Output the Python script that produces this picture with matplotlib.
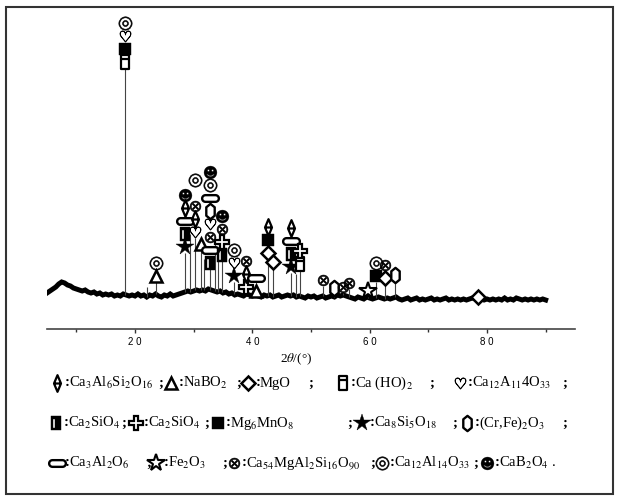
# XRD pattern with phase markers
import numpy as np
import matplotlib
matplotlib.use('Agg')
import matplotlib.pyplot as plt
from matplotlib.path import Path
from matplotlib.textpath import TextPath
from matplotlib.font_manager import FontProperties
from matplotlib.transforms import Affine2D
from matplotlib.patches import Rectangle

plt.rcParams['mathtext.fontset'] = 'stix'
plt.rcParams['font.family'] = ['Liberation Serif', 'DejaVu Sans']

# ---- data -------------------------------------------------------------
two_theta = np.arange(5, 90.01, 0.5)
baseline = [36, 38, 40, 42, 45, 47, 46, 44, 43, 41, 40, 39, 38, 39, 37, 36, 37, 35, 36, 34,
            35, 34, 35, 33, 34, 33, 35, 34, 33, 34, 33, 35, 33, 34, 32, 34, 33, 35, 33, 32,
            34, 33, 35, 33, 34, 35, 36, 37, 38, 37, 38, 39, 38, 39, 38, 40, 39, 38, 37, 38,
            36, 37, 35, 36, 34, 35, 34, 33, 35, 34, 33, 34, 33, 32, 34, 33, 34, 32, 33, 34,
            32, 33, 34, 33, 34, 32, 33, 32, 31, 33, 32, 33, 31, 32, 33, 31, 32, 33, 32, 34,
            33, 34, 33, 32, 31, 30, 32, 31, 30, 32, 31, 30, 31, 32, 31, 30, 31, 30, 31, 32,
            30, 29, 30, 31, 29, 30, 31, 29, 30, 29, 30, 31, 29, 30, 29, 30, 31, 29, 30, 29,
            30, 29, 30, 29, 30, 31, 30, 32, 30, 29, 30, 29, 30, 29, 30, 29, 31, 29, 30, 29,
            31, 30, 29, 30, 29, 30, 29, 30, 29, 30, 29]

# labelled reflections: position, peak height, phases stacked from bottom to top
peak_pos = [18.3, 23.6, 28.5, 30.3, 31.3, 32.8, 34.8, 36.8, 38.9, 40.7, 42.7, 43.6,
            46.6, 48.2, 52.0, 54.0, 55.4, 56.4, 59.8, 61.0, 62.6, 64.4, 78.5]
peak_int = [261, 47, 76, 91, 79, 60, 68, 47, 36, 32, 70, 61,
            56, 59, 43, 35, 36, 40, 32, 47, 45, 48, 26]
peak_phases = [['H', 'Mg', 'C12', 'D'], ['N', 'D'], ['St', 'S1', 'R', 'A', 'B'],
               ['C12', 'A', 'X', None, 'D'], ['N'],
               ['S1', 'R', 'X', 'C12', 'Cr', 'R', 'D', 'B'], ['S1', 'S2', 'X', 'B'],
               ['St', 'C12', 'D'], ['S2', 'A', 'X'], ['N', 'R'], ['M', 'Mg', 'A'], ['M'],
               ['St', 'S1', 'R', 'A'], ['H', 'S2'], ['X'], ['Cr'], ['X'], ['X'], ['F'],
               ['Mg', 'D'], ['M', 'X'], ['Cr'], ['M']]

# unlabelled small reflections
extra_pos = [22.0, 29.4, 31.7, 33.6, 34.1, 47.4]
extra_int = [42, 95, 70, 85, 75, 55]

legend_keys = [['A', 'N', 'M', 'H', 'C12'],
               ['S1', 'S2', 'Mg', 'St', 'Cr'],
               ['R', 'F', 'X', 'D', 'B']]
legend_labels = [[r'Ca$_3$Al$_6$Si$_2$O$_{16}$', r'NaBO$_2$', 'MgO', r'Ca (HO)$_2$',
                  r'Ca$_{12}$A$_{11}$4O$_{33}$'],
                 [r'Ca$_2$SiO$_4$', r'Ca$_2$SiO$_4$', r'Mg$_6$MnO$_8$',
                  r'Ca$_8$Si$_5$O$_{18}$', r'(Cr,Fe)$_2$O$_3$'],
                 [r'Ca$_3$Al$_2$O$_6$', r'Fe$_2$O$_3$', r'Ca$_{54}$MgAl$_2$Si$_{16}$O$_{90}$',
                  r'Ca$_{12}$Al$_{14}$O$_{33}$', r'CaB$_2$O$_4$ .']]


# ---- marker shapes ----------------------------------------------------
def glyph(ch):
    tp = TextPath((0, 0), ch, size=10, prop=FontProperties(family='DejaVu Sans'))
    bb = tp.get_extents()
    return tp.transformed(Affine2D().translate(-(bb.x0 + bb.x1) / 2, -(bb.y0 + bb.y1) / 2))


M, L, C = Path.MOVETO, Path.LINETO, Path.CLOSEPOLY
lozenge = Path([(0, 1), (0.42, 0), (0, -1), (-0.42, 0), (0, 1), (-0.42, 0), (0.42, 0)],
               [M, L, L, L, C, M, L])
cylinder = Path([(-0.62, -1), (0.62, -1), (0.62, 1), (-0.62, 1), (0, 0), (-0.62, 0.5), (0.62, 0.5)],
                [M, L, L, L, C, M, L])
box = Path([(-0.65, -1), (0.65, -1), (0.65, 1), (-0.65, 1), (0, 0),
            (-0.42, -0.72), (-0.42, 0.62), (-0.12, 0.62), (-0.12, -0.72), (0, 0)],
           [M, L, L, L, C, M, L, L, L, C])
hexa = Path([(0, 1), (0.55, 0.55), (0.55, -0.55), (0, -1), (-0.55, -0.55), (-0.55, 0.55), (0, 0)],
            [M, L, L, L, L, L, C])
a = np.linspace(-np.pi / 2, np.pi / 2, 12)
stadium_v = list(zip(0.6 + 0.4 * np.cos(a), 0.4 * np.sin(a))) + \
    list(zip(-0.6 - 0.4 * np.cos(a), -0.4 * np.sin(a)))
stadium = Path(stadium_v + [(0, 0)], [M] + [L] * (len(stadium_v) - 1) + [C])

hollow = dict(mfc='white', mec='black')
solid = dict(mfc='black', mec='black')
styles = {
    'A': dict(marker=lozenge, ms=12, mew=1.6, **hollow),
    'N': dict(marker='^', ms=9, mew=1.8, **hollow),
    'M': dict(marker='D', ms=7.5, mew=1.8, **hollow),
    'H': dict(marker=cylinder, ms=10, mew=1.6, **hollow),
    'C12': dict(marker=glyph('\u2661'), ms=10, mew=0.5, **solid),
    'S1': dict(marker=box, ms=10, mew=0.3, **solid),
    'S2': dict(marker='P', ms=10, mew=1.6, **hollow),
    'Mg': dict(marker='s', ms=8, mew=0.3, **solid),
    'St': dict(marker='*', ms=13, mew=0.3, **solid),
    'Cr': dict(marker=hexa, ms=11, mew=1.7, **hollow),
    'R': dict(marker=stadium, ms=12, mew=1.7, **hollow),
    'F': dict(marker='*', ms=13, mew=1.5, **hollow),
    'X': dict(marker=glyph('\u2297'), ms=10, mew=0.4, **solid),
    'D': dict(marker=glyph('\u25ce'), ms=11, mew=0.4, **solid),
    'B': dict(marker=glyph('\u263b'), ms=11, mew=0.3, **solid),
}

# ---- figure -----------------------------------------------------------
fig = plt.figure(figsize=(6.19, 4.96), dpi=100)
ax = fig.add_axes([47 / 619, (496 - 329) / 496, (575 - 47) / 619, (329 - 6) / 496])
ax.patch.set_visible(False)
ax.set_xlim(5, 95)
ax.set_ylim(0, 323)

ax.plot(two_theta, baseline, color='black', lw=3.6, solid_joinstyle='miter', zorder=2)

for pos, h in zip(peak_pos + extra_pos, peak_int + extra_int):
    b = np.interp(pos, two_theta, baseline)
    if h > b:
        ax.vlines(pos, b, h, color='#444444', lw=0.8, zorder=3)

for pos, h, phases in zip(peak_pos, peak_int, peak_phases):
    for k, key in enumerate(phases):
        if key is None:
            continue
        ax.plot(pos, h + 6 + 13 * k, ls='none', clip_on=False, zorder=5, **styles[key])

for s in ['left', 'right', 'top']:
    ax.spines[s].set_visible(False)
ax.spines['bottom'].set_color('#444444')
ax.spines['bottom'].set_linewidth(1.2)
ax.set_yticks([])
ax.set_xticks([20, 40, 60, 80])
ax.set_xticklabels(['2 0', '4 0', '6 0', '8 0'], fontfamily='Liberation Sans', fontsize=7)
ax.set_xticks([10, 30, 50, 70, 90], minor=True)
ax.tick_params(axis='x', which='major', length=3, width=1, pad=3, color='#333333')
ax.tick_params(axis='x', which='minor', length=2, width=1, color='#333333')

# overlay in pixel coordinates for frame, axis title and the phase key
ov = fig.add_axes([0, 0, 1, 1])
ov.patch.set_visible(False)
ov.set_xlim(0, 619)
ov.set_ylim(496, 0)
ov.axis('off')
ov.add_patch(Rectangle((5.5, 6.5), 607, 487, fill=False, lw=1.5, ec='#333333'))
ov.text(296, 359, r'2$\theta$/(°)', ha='center', va='center', fontsize=9.5)

row_y = [383, 423, 463]
sym_x = [[57, 171, 248, 343, 460], [56, 136, 218, 362, 467], [57, 156, 234, 382, 487]]
semi_x = [[161, 239, 311, 432, 565], [124, 207, 350, 455, 565], [149, 225, 373, 476]]
for r in range(3):
    for key, lab, x in zip(legend_keys[r], legend_labels[r], sym_x[r]):
        ov.plot(x, row_y[r], ls='none', **styles[key])
        ov.text(x + 8, row_y[r], ':', ha='left', va='center', fontsize=10.5, fontweight='bold')
        ov.text(x + 12, row_y[r], lab, ha='left', va='center', fontsize=10.5)
    for x in semi_x[r]:
        ov.text(x, row_y[r], ';', ha='center', va='center', fontsize=10.5, fontweight='bold')

fig.savefig('out.png', dpi=100)
